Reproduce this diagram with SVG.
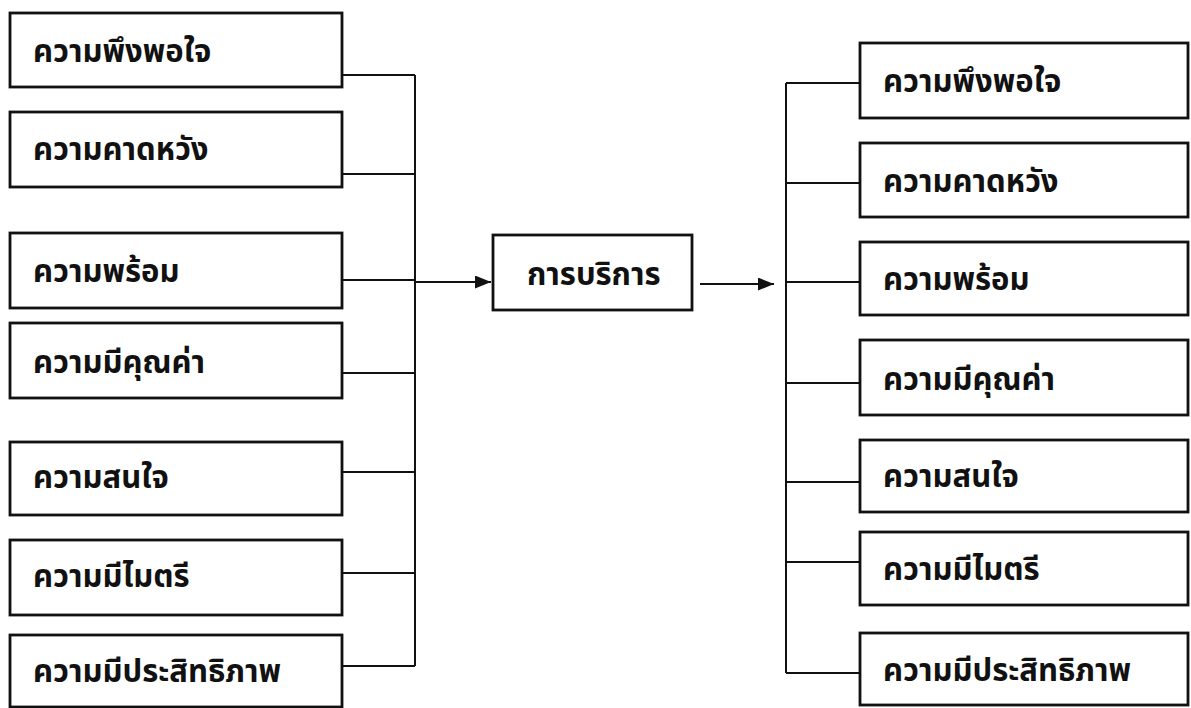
<svg xmlns="http://www.w3.org/2000/svg" width="1191" height="708" viewBox="0 0 1191 708">
  <style>
    .box { fill: #ffffff; stroke: #111111; stroke-width: 2.8; }
    .lbl { font-family: "Noto Sans Thai", "Noto Sans", "DejaVu Sans", sans-serif; font-size: 31px; font-weight: bold; fill: #111111; }
    .wire { fill: none; stroke: #111111; stroke-width: 2; }
  </style>
  <defs>
    <marker id="arrow" viewBox="0 0 10 10" refX="10" refY="5" markerWidth="16" markerHeight="13" markerUnits="userSpaceOnUse" orient="auto" preserveAspectRatio="none">
      <path d="M0,0 L10,5 L0,10 Z" fill="#111111"/>
    </marker>
  </defs>
  <rect width="1191" height="708" fill="#ffffff"/>

  <!-- connectors -->
  <g id="connectors">
    <!-- left bus collecting the seven factors -->
    <path class="wire" d="M342,75 H415 M342,174 H415 M342,280 H415 M342,373 H415 M342,472 H415 M342,573 H415 M342,666 H415 M415,75 V666"/>
    <path class="wire" d="M415,282 H491" marker-end="url(#arrow)"/>
    <!-- right bus distributing to the seven outcomes -->
    <path class="wire" d="M700,284 H774" marker-end="url(#arrow)"/>
    <path class="wire" d="M786,83 V673 M786,83 H860 M786,183 H860 M786,282 H860 M786,383 H860 M786,482 H860 M786,562 H860 M786,673 H860"/>
  </g>

  <!-- left column -->
  <g id="l1"><rect class="box" x="10" y="13" width="332" height="74"/><text class="lbl" x="33" y="62">ความพึงพอใจ</text></g>
  <g id="l2"><rect class="box" x="10" y="112" width="332" height="75"/><text class="lbl" x="33" y="160">ความคาดหวัง</text></g>
  <g id="l3"><rect class="box" x="10" y="233" width="332" height="75"/><text class="lbl" x="33" y="282">ความพร้อม</text></g>
  <g id="l4"><rect class="box" x="10" y="323" width="332" height="75"/><text class="lbl" x="33" y="373">ความมีคุณค่า</text></g>
  <g id="l5"><rect class="box" x="10" y="442" width="332" height="73"/><text class="lbl" x="33" y="488">ความสนใจ</text></g>
  <g id="l6"><rect class="box" x="10" y="540" width="332" height="75"/><text class="lbl" x="33" y="587">ความมีไมตรี</text></g>
  <g id="l7"><rect class="box" x="10" y="635" width="332" height="72"/><text class="lbl" x="33" y="682">ความมีประสิทธิภาพ</text></g>

  <!-- center -->
  <g id="center"><rect class="box" x="493" y="235" width="199" height="75"/><text class="lbl" x="527" y="285">การบริการ</text></g>

  <!-- right column -->
  <g id="r1"><rect class="box" x="860" y="43" width="328" height="75"/><text class="lbl" x="883" y="92">ความพึงพอใจ</text></g>
  <g id="r2"><rect class="box" x="860" y="143" width="328" height="74"/><text class="lbl" x="883" y="192">ความคาดหวัง</text></g>
  <g id="r3"><rect class="box" x="860" y="242" width="328" height="73"/><text class="lbl" x="883" y="290">ความพร้อม</text></g>
  <g id="r4"><rect class="box" x="860" y="340" width="328" height="75"/><text class="lbl" x="883" y="390">ความมีคุณค่า</text></g>
  <g id="r5"><rect class="box" x="860" y="440" width="328" height="72"/><text class="lbl" x="883" y="487">ความสนใจ</text></g>
  <g id="r6"><rect class="box" x="860" y="532" width="328" height="73"/><text class="lbl" x="883" y="580">ความมีไมตรี</text></g>
  <g id="r7"><rect class="box" x="860" y="633" width="328" height="72"/><text class="lbl" x="883" y="681">ความมีประสิทธิภาพ</text></g>
</svg>
